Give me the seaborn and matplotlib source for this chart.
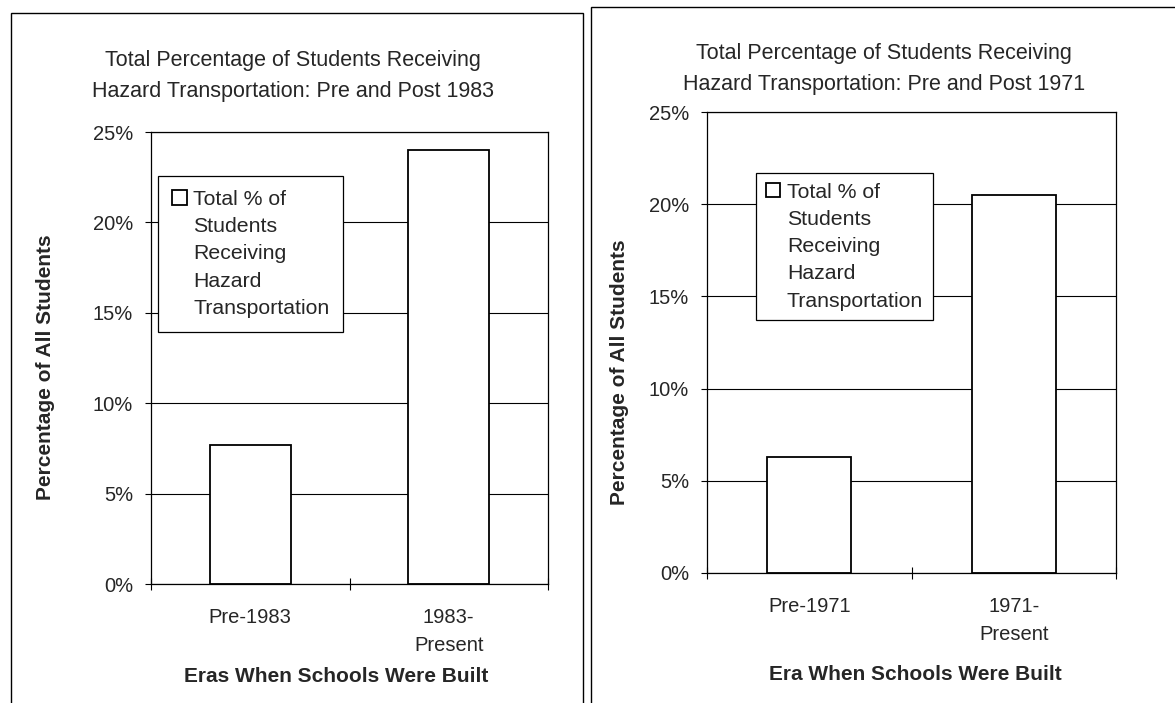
import matplotlib
matplotlib.use("Agg")
import matplotlib.pyplot as plt
import matplotlib.ticker as mticker
from matplotlib.patches import Rectangle
import seaborn as sns
import pandas as pd

# ---- data ----
left_categories = ["Pre-1983", "1983-\nPresent"]
left_values = [7.7, 24.0]
left_title = "Total Percentage of Students Receiving\nHazard Transportation: Pre and Post 1983"
left_xlabel = "Eras When Schools Were Built"

right_categories = ["Pre-1971", "1971-\nPresent"]
right_values = [6.3, 20.5]
right_title = "Total Percentage of Students Receiving\nHazard Transportation: Pre and Post 1971"
right_xlabel = "Era When Schools Were Built"

ylabel = "Percentage of All Students"
legend_label = "Total % of\nStudents\nReceiving\nHazard\nTransportation"
y_ticks = [0, 5, 10, 15, 20, 25]

sns.set_style("white")
plt.rcParams["font.family"] = ["Liberation Sans", "DejaVu Sans"]

W, H = 1175, 703
fig = plt.figure(figsize=(W / 100, H / 100), dpi=100)


def fx(px):
    return px / W


def fy(py):
    return 1 - py / H


# panel borders
fig.patches.append(Rectangle((fx(11), -0.02), fx(583) - fx(11), fy(13) + 0.02,
                             transform=fig.transFigure, fill=False,
                             edgecolor="black", linewidth=1.0))
fig.patches.append(Rectangle((fx(591), -0.02), 1.05 - fx(591), fy(7) + 0.02,
                             transform=fig.transFigure, fill=False,
                             edgecolor="black", linewidth=1.0))


def panel(rect, cats, vals, title, title_pos, xlabel, xl_coords, yl_coords,
          leg_anchor, leg_pad):
    ax = fig.add_axes(rect)
    df = pd.DataFrame({"era": cats, "pct": vals})
    sns.barplot(data=df, x="era", y="pct", order=cats, ax=ax, color="white",
                edgecolor="black", linewidth=1.3, width=0.41, saturation=1)
    ax.set_ylim(0, 25)
    ax.set_xlim(-0.5, 1.5)
    ax.set_yticks(y_ticks)
    ax.yaxis.set_major_formatter(mticker.PercentFormatter(100, decimals=0))
    ax.set_axisbelow(True)
    ax.yaxis.grid(True, color="black", linewidth=0.8)
    ax.xaxis.grid(False)
    for s in ax.spines.values():
        s.set_visible(True)
        s.set_color("black")
        s.set_linewidth(0.9)
    ax.tick_params(axis="y", which="major", length=4, width=0.8, pad=9,
                   labelsize=14.5, color="black", direction="out", left=True)
    ax.tick_params(axis="x", which="major", length=0, pad=17, labelsize=14.5)
    ax.xaxis.set_minor_locator(mticker.FixedLocator([-0.5, 0.5, 1.5]))
    ax.tick_params(axis="x", which="minor", length=8, width=0.8,
                   direction="inout", color="black", bottom=True)
    for lbl in ax.get_xticklabels():
        lbl.set_linespacing(1.65)

    ax.set_xlabel(xlabel, fontsize=15, fontweight="bold")
    ax.xaxis.set_label_coords(*xl_coords)
    ax.set_ylabel(ylabel, fontsize=15, fontweight="bold", va="center")
    ax.yaxis.set_label_coords(*yl_coords)

    fig.text(fx(title_pos[0]), fy(title_pos[1]), title, ha="center", va="top",
             fontsize=15.5, linespacing=1.62)

    leg = ax.legend(handles=[ax.patches[0]], labels=[legend_label],
                    loc="upper left",
                    bbox_to_anchor=(fx(leg_anchor[0]), fy(leg_anchor[1])),
                    bbox_transform=fig.transFigure, borderaxespad=0,
                    fontsize=15.3, frameon=True, fancybox=False, shadow=False,
                    framealpha=1, edgecolor="black", borderpad=leg_pad,
                    handlelength=0.7, handleheight=0.7, handletextpad=0.3)
    leg.get_frame().set_linewidth(0.9)
    for t in leg.get_texts():
        t.set_linespacing(1.55)
    for col in leg._legend_handle_box.get_children():
        for row in col.get_children():
            row.align = "top"
    return ax


panel([fx(151), fy(584), fx(548) - fx(151), fy(132) - fy(584)],
      left_categories, left_values, left_title, (293, 50), left_xlabel,
      (0.466, -0.1836), (-0.2645, 0.48), (158, 176), 0.65)

panel([fx(707), fy(573), fx(1116) - fx(707), fy(112) - fy(573)],
      right_categories, right_values, right_title, (884, 43), right_xlabel,
      (0.509, -0.1996), (-0.214, 0.436), (756, 173), 0.45)

fig.savefig("out.png", dpi=100)
